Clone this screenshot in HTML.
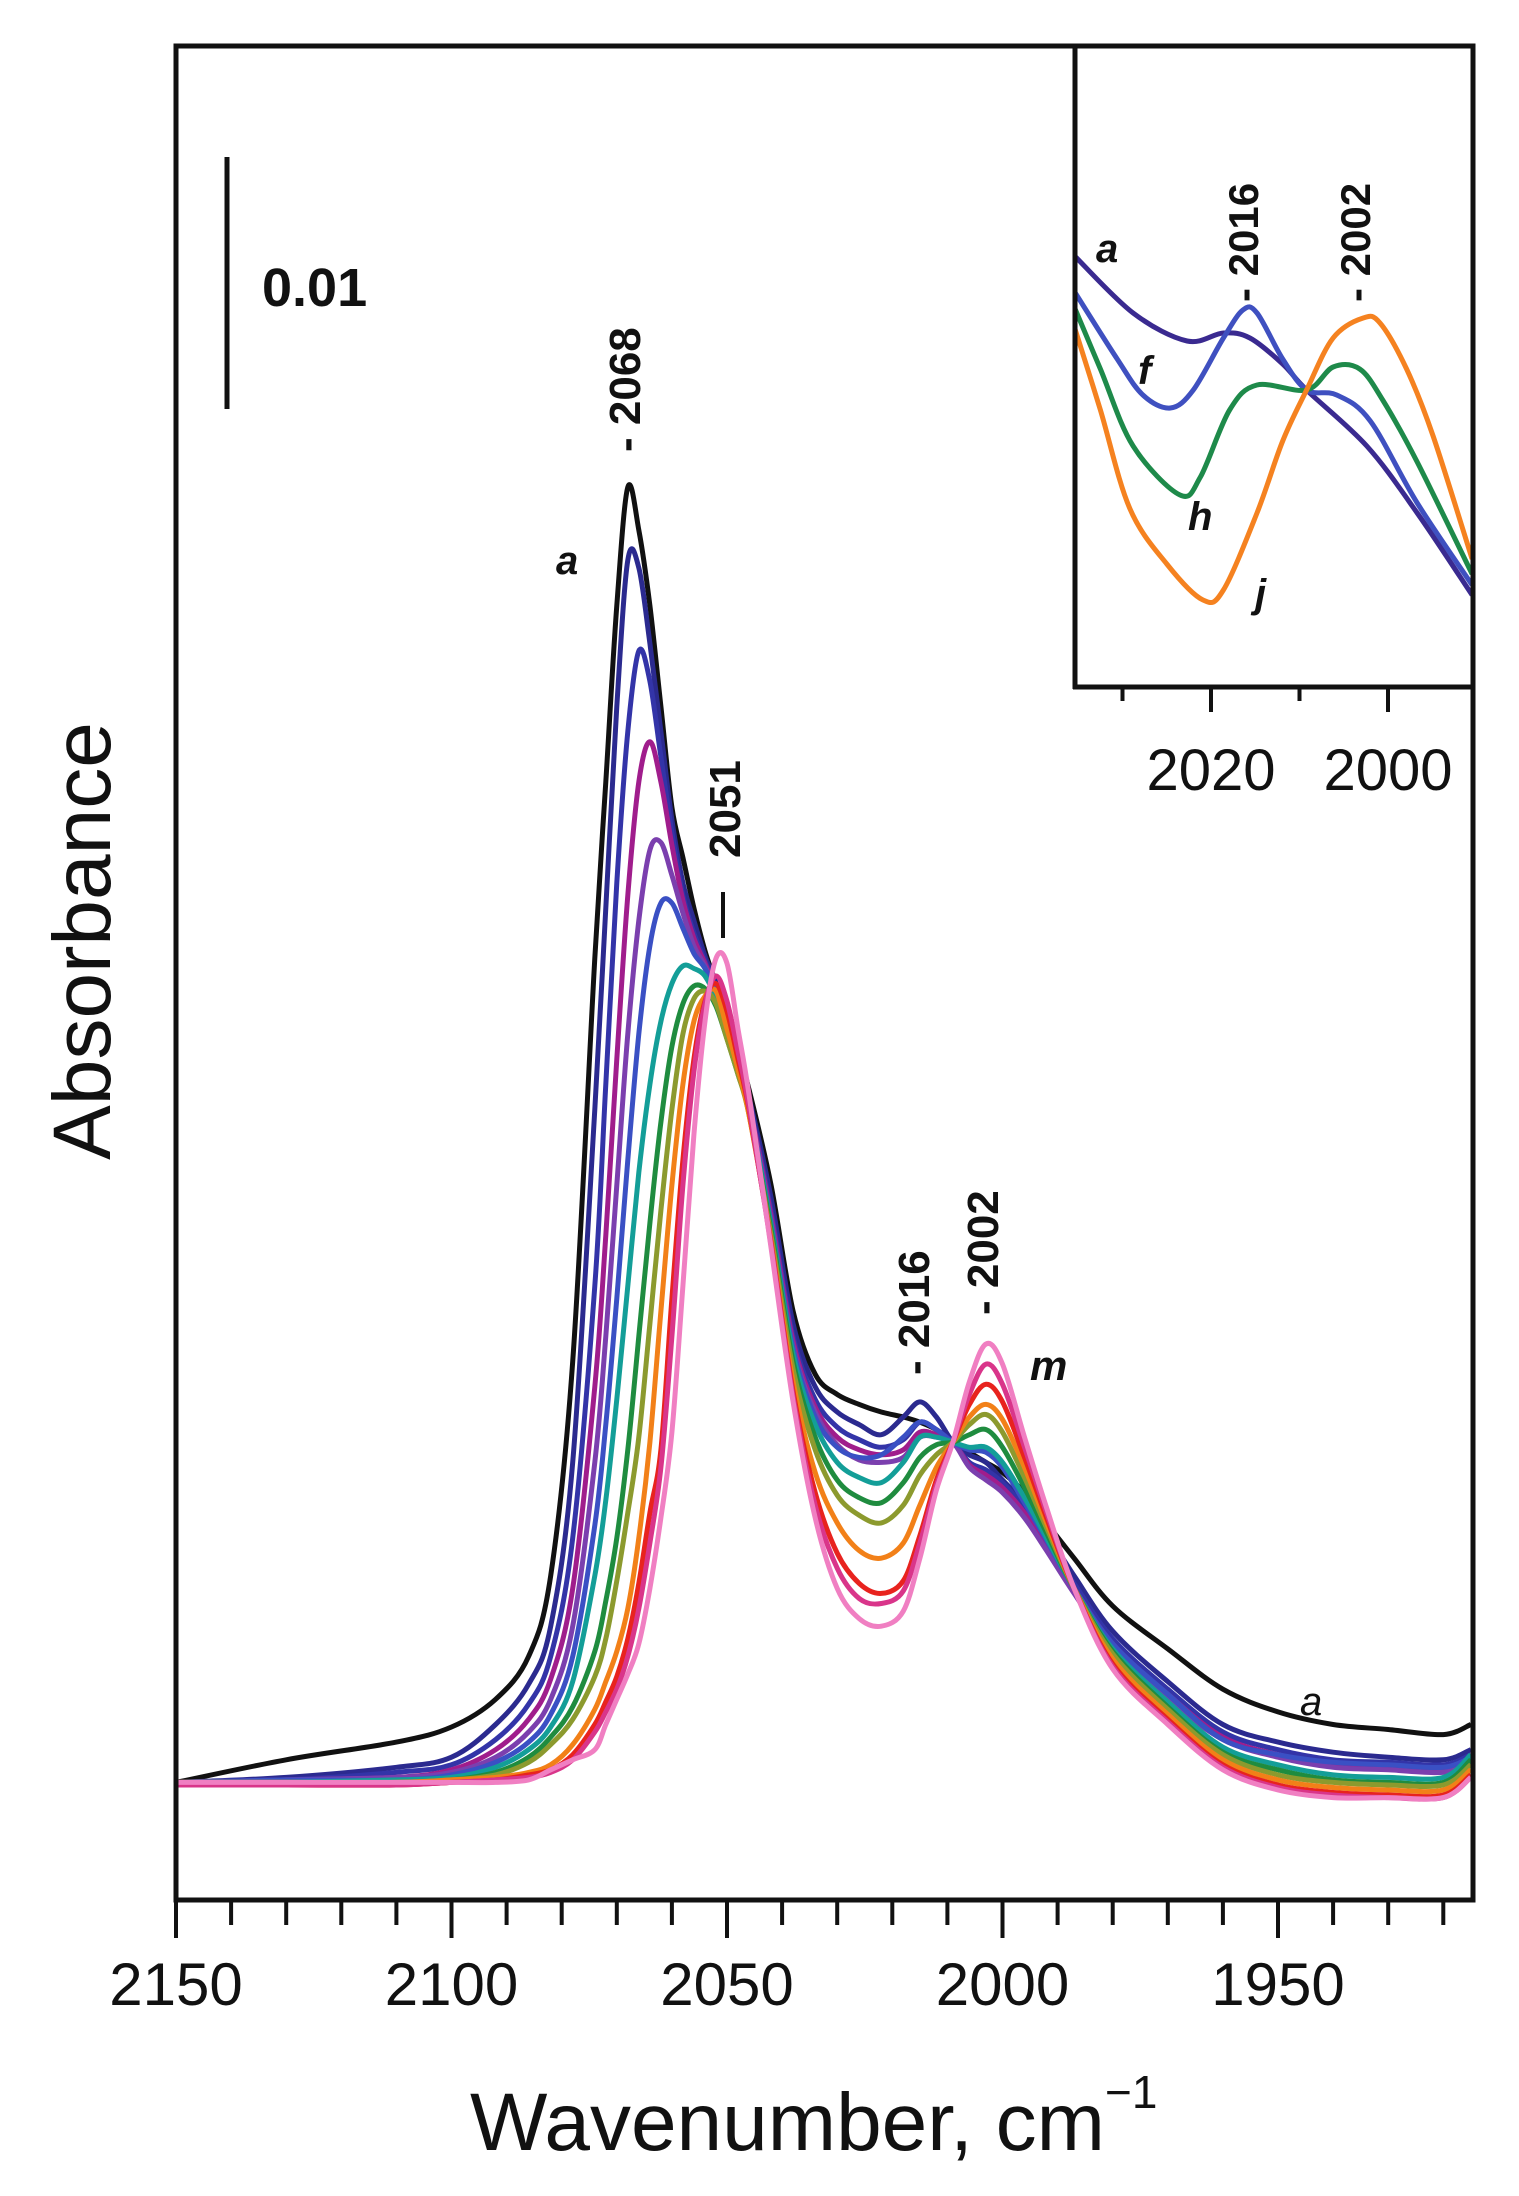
<!DOCTYPE html>
<html><head><meta charset="utf-8"><style>
html,body{margin:0;padding:0;background:#fff;}
svg{display:block;}
text{font-family:"Liberation Sans",Arial,sans-serif;fill:#111;}
</style></head><body>
<svg id="chart" width="1519" height="2196" viewBox="0 0 1519 2196" xmlns="http://www.w3.org/2000/svg">
<g id="main-curves"></g>
<g id="inset-group">
<rect x="1075" y="46" width="398" height="641" fill="#fff"/>
<g id="inset-curves"></g>
</g>
<g id="axes"></g>
<line x1="227" y1="157" x2="227" y2="409" stroke="#111" stroke-width="5"/>
<text x="262" y="306" font-size="54" font-weight="bold">0.01</text>
<text transform="translate(110,941) rotate(-90)" text-anchor="middle" font-size="82">Absorbance</text>
<text x="470" y="2150" font-size="82">Wavenumber, cm<tspan dy="-42" font-size="46">−1</tspan></text>
<text transform="translate(640,452) rotate(-90)" font-size="44" font-weight="bold">- 2068</text>
<line x1="723" y1="892" x2="723" y2="938" stroke="#111" stroke-width="4"/>
<text transform="translate(740,858) rotate(-90)" font-size="44" font-weight="bold">2051</text>
<text transform="translate(929,1375) rotate(-90)" font-size="44" font-weight="bold">- 2016</text>
<text transform="translate(998,1315) rotate(-90)" font-size="44" font-weight="bold">- 2002</text>
<text x="556" y="574" font-size="40" font-weight="bold" font-style="italic">a</text>
<text x="1030" y="1380" font-size="42" font-weight="bold" font-style="italic">m</text>
<text x="1300" y="1715" font-size="40" font-style="italic">a</text>
<text x="1096" y="262" font-size="40" font-weight="bold" font-style="italic">a</text>
<text x="1138" y="384" font-size="40" font-weight="bold" font-style="italic">f</text>
<text x="1188" y="530" font-size="40" font-weight="bold" font-style="italic">h</text>
<text x="1255" y="607" font-size="40" font-weight="bold" font-style="italic">j</text>
<text transform="translate(1258,302) rotate(-90)" font-size="42" font-weight="bold">- 2016</text>
<text transform="translate(1370,302) rotate(-90)" font-size="42" font-weight="bold">- 2002</text>
</svg>
<script>
// ---- main chart data ----
const wn = [2150,2130,2110,2100,2092,2086,2082,2078,2074,2072,2070,2068,2066,2064,2062,2060,2058,2056,2054,2052,2050,2048,2046,2042,2038,2034,2030,2026,2022,2018,2015,2012,2009,2006,2003,2000,1996,1992,1987,1980,1970,1960,1950,1940,1930,1920,1915];
const seriesNames = ['a','b','c','d','e','f','g','h','i','j','k','l','m'];
const seriesColors = ['#111111','#2b2a8f','#3334a8','#a01d8c','#7b3fae','#3a50c4','#139e98','#1f8c3f','#8c9a2e','#f28018','#e8231e','#d9358a','#f07fc2'];
const absA = [0.3,1.2,1.9,2.5,3.6,5.3,8.5,17,33,40,47,51.7,50,47,43,39,37,35,33.3,32,30.5,29.3,27.8,24,19,16.5,15.7,15.3,15.0,14.8,14.6,14.3,13.8,13.4,13.0,12.6,11.8,10.6,9.2,7.3,5.6,4.0,3.1,2.6,2.4,2.2,2.6];
const absB = [0.3,0.5,0.9,1.3,2.6,4.2,6.5,13,27,35,43,48.8,48.5,45.5,42,38.5,36,34.5,33.1,32,30.3,29,27.5,23.5,18.5,16,15,14.5,14.1,14.8,15.4,14.8,13.8,13.3,13.0,12.3,11.4,10.2,8.5,6.3,4.3,2.6,1.9,1.5,1.3,1.2,1.6];
const absC = [0.3,0.4,0.7,1.0,2.0,3.4,5.3,10,20,28,36,42,45.2,44,41,38,35.5,34,32.9,31.8,30.2,28.8,27.3,23,18,15.5,14.4,13.9,13.6,13.9,14.6,14.3,13.8,13.0,12.7,12.2,11.2,9.9,8.2,6.0,4.0,2.3,1.6,1.2,1.1,1.0,1.4];
const absD = [0.3,0.4,0.5,0.8,1.6,2.8,4.4,8,16,22,29,35.5,40,41.6,40,37.5,35.3,33.8,32.8,31.7,30.1,28.7,27.2,22.8,17.8,15.2,14.0,13.5,13.3,13.5,14.2,14.1,13.8,12.9,12.5,12.0,11.0,9.7,8.0,5.8,3.8,2.1,1.4,1.0,0.9,0.8,1.2];
const absE = [0.3,0.4,0.5,0.7,1.3,2.3,3.6,6.5,13,18,24,30,34.5,37.3,37.6,36.3,34.8,33.5,32.7,31.6,30,28.6,27.1,22.6,17.6,15.0,13.7,13.1,13.0,13.2,14.0,14.0,13.8,12.8,12.3,11.8,10.8,9.5,7.8,5.6,3.6,2.0,1.3,0.9,0.8,0.7,1.1];
const absF = [0.3,0.4,0.4,0.6,1.1,1.9,3.0,5.3,10.5,14.5,19.5,25,30,33.5,35.2,35.2,34.2,33.2,32.6,31.6,30,28.6,27.1,22.5,17.5,14.8,13.6,13.2,13.3,14.0,14.6,14.3,13.8,13.5,13.4,12.8,11.4,9.9,8.0,5.8,3.8,2.0,1.4,1.1,1.0,0.9,1.3];
const absG = [0.2,0.3,0.4,0.5,0.9,1.6,2.5,4.3,8.5,11.5,15.5,20,24.5,28,30.5,32,32.7,32.6,32.3,31.4,29.9,28.5,27,22.4,17.3,14.5,13.0,12.4,12.2,13.0,14.0,14.0,13.8,13.6,13.6,13.0,11.6,10.0,8.0,5.6,3.5,1.7,1.0,0.6,0.5,0.5,1.4];
const absH = [0.3,0.3,0.3,0.4,0.7,1.3,2.1,3.3,5.5,7.5,10,13.5,18,22.5,26.5,29.5,31.2,31.9,31.8,31.1,29.8,28.4,26.9,22.2,17.0,14.0,12.3,11.6,11.4,12.2,13.2,13.7,13.8,14.1,14.3,13.6,12.0,10.2,8.0,5.5,3.3,1.5,0.8,0.4,0.3,0.3,1.2];
const absI = [0.3,0.3,0.3,0.4,0.6,1.1,1.8,2.8,4.5,6,8.3,11,14,18.5,23,27,30,31.4,31.7,31.2,29.8,28.4,26.8,22,16.7,13.5,11.7,10.9,10.6,11.3,12.5,13.3,13.8,14.5,14.9,14.2,12.4,10.4,8.0,5.4,3.2,1.4,0.6,0.3,0.2,0.2,1.0];
const absJ = [0.3,0.3,0.3,0.4,0.5,0.7,1.0,1.8,3.2,4.3,5.5,7.2,10,13.8,19,24,28,30.5,31.5,31.7,30.2,28.6,26.8,21.8,16.2,12.6,10.6,9.5,9.2,9.8,11.3,12.8,13.8,14.8,15.3,14.7,12.8,10.6,8.0,5.2,3.0,1.2,0.4,0.1,0.0,0.0,0.8];
const absK = [0.2,0.2,0.2,0.3,0.4,0.6,0.8,1.4,2.6,3.5,4.5,6.0,8.2,11,13.5,19.5,25,29,31.3,32,30.9,29,27,21.7,15.8,11.8,9.4,8.2,7.8,8.3,10.1,12.3,13.8,15.3,16.1,15.4,13.2,10.8,8.0,5.0,2.8,1.0,0.2,-0.1,-0.2,-0.2,0.6];
const absL = [0.2,0.2,0.2,0.3,0.4,0.5,0.7,1.2,2.3,3.1,4.0,5.3,7.2,9.8,12.8,18,24,28.5,31.2,32.3,31.3,29.3,27.1,21.6,15.6,11.3,8.8,7.6,7.4,7.9,9.8,12.1,13.8,15.7,16.9,16.1,13.6,11.0,8.0,4.9,2.7,0.9,0.1,-0.2,-0.3,-0.3,0.5];
const absM = [0.3,0.3,0.3,0.3,0.3,0.4,0.8,1.2,1.6,2.6,3.6,4.6,5.8,8.0,10.8,14.2,20,26,30.5,33,32.8,30.2,27.6,21.5,15.4,10.8,8.0,6.8,6.5,7.1,9.2,11.9,13.8,16.2,17.7,16.9,14.0,11.2,8.0,4.8,2.6,0.8,0.0,-0.3,-0.3,-0.3,0.5];
const seriesValues = [absA,absB,absC,absD,absE,absF,absG,absH,absI,absJ,absK,absL,absM];
const xTickMajor = [2150,2100,2050,2000,1950];
const xTickLabels = ['2150','2100','2050','2000','1950'];

// ---- inset data ----
const insetNames = ['a','f','h','j'];
const insetColors = ['#3a2a90','#3f50c0','#1e8a4a','#f58220'];
const insetWnA = [2035.4,2028.8,2022.7,2018.6,2015.6,2011.9,2009.2,2002.4,1996.7,1990.5];
const insetValA = [44.4,38.7,35.9,36.7,36.2,33.6,31.0,25.4,18.7,10.5];
const insetWnF = [2035.4,2030.6,2027.7,2024.6,2022.0,2018.6,2016.4,2014.8,2011.9,2009.2,2005.8,2002.0,1996.7,1990.5];
const insetValF = [40.8,34.1,30.5,29.2,31.0,36.2,39.0,38.7,34.1,31.0,30.5,27.9,19.7,11.5];
const insetWnH = [2035.4,2032.5,2028.8,2023.5,2021.2,2017.9,2014.8,2009.2,2006.2,2003.2,2000.6,1996.7,1990.5];
const insetValH = [39.2,33.1,25.4,20.5,22.3,29.0,31.5,31.0,33.3,33.1,30.0,23.8,12.6];
const insetWnJ = [2035.4,2032.5,2029.2,2025.0,2020.9,2018.6,2014.8,2011.9,2009.2,2006.2,2002.8,2000.9,1997.9,1994.9,1990.5];
const insetValJ = [37.2,29.0,19.2,13.6,10.0,11.0,18.7,25.9,31.0,36.2,38.2,37.7,33.1,26.4,14.1];
const insetWns = [insetWnA,insetWnF,insetWnH,insetWnJ];
const insetVals = [insetValA,insetValF,insetValH,insetValJ];
const insetTickMajor = [2020,2000];
const insetTickMinor = [2030,2010];

const NS = 'http://www.w3.org/2000/svg';
function xMain(w){ return 176 + (2150 - w) * 5.51; }
function yMain(a){ return 1790 - a * 25.2; }
function xIns(w){ return 1211 - (w - 2020) * 8.85; }
function yIns(v){ return 700 - v * 10; }

function spline(pts){
  let d = 'M' + pts[0][0].toFixed(1) + ',' + pts[0][1].toFixed(1);
  for (let i = 0; i < pts.length - 1; i++){
    const p0 = pts[Math.max(0,i-1)], p1 = pts[i], p2 = pts[i+1], p3 = pts[Math.min(pts.length-1,i+2)];
    const c1x = p1[0] + (p2[0]-p0[0])/6, c1y = p1[1] + (p2[1]-p0[1])/6;
    const c2x = p2[0] - (p3[0]-p1[0])/6, c2y = p2[1] - (p3[1]-p1[1])/6;
    d += ' C' + c1x.toFixed(1)+','+c1y.toFixed(1)+' '+c2x.toFixed(1)+','+c2y.toFixed(1)+' '+p2[0].toFixed(1)+','+p2[1].toFixed(1);
  }
  return d;
}

const mainG = document.getElementById('main-curves');
seriesValues.forEach((vals, k) => {
  const pts = wn.map((w, i) => [xMain(w), yMain(vals[i])]);
  const p = document.createElementNS(NS, 'path');
  p.setAttribute('d', spline(pts));
  p.setAttribute('fill', 'none');
  p.setAttribute('stroke', seriesColors[k]);
  p.setAttribute('stroke-width', '5');
  p.setAttribute('stroke-linejoin', 'round');
  
  
  mainG.appendChild(p);
});

const insG = document.getElementById('inset-curves');
const clip = document.createElementNS(NS, 'clipPath');
clip.setAttribute('id', 'insclip');
const cr = document.createElementNS(NS, 'rect');
cr.setAttribute('x', '1075'); cr.setAttribute('y', '46'); cr.setAttribute('width', '398'); cr.setAttribute('height', '641');
clip.appendChild(cr);
document.getElementById('chart').appendChild(clip);
insG.setAttribute('clip-path', 'url(#insclip)');
insetVals.forEach((vals, k) => {
  const pts = insetWns[k].map((w, i) => [xIns(w), yIns(vals[i])]);
  const p = document.createElementNS(NS, 'path');
  p.setAttribute('d', spline(pts));
  p.setAttribute('fill', 'none');
  p.setAttribute('stroke', insetColors[k]);
  p.setAttribute('stroke-width', '5');
  
  
  insG.appendChild(p);
});

const ax = document.getElementById('axes');
function line(x1,y1,x2,y2,w,name){
  const l = document.createElementNS(NS, 'line');
  l.setAttribute('x1',x1); l.setAttribute('y1',y1); l.setAttribute('x2',x2); l.setAttribute('y2',y2);
  l.setAttribute('stroke','#111'); l.setAttribute('stroke-width',w);
  
  
  ax.appendChild(l);
}
function txt(x,y,s,size,name){
  const t = document.createElementNS(NS, 'text');
  t.setAttribute('x',x); t.setAttribute('y',y); t.setAttribute('font-size',size);
  t.setAttribute('text-anchor','middle');
  t.textContent = s;
  
  
  ax.appendChild(t);
}
// main frame
const fr = document.createElementNS(NS, 'rect');
fr.setAttribute('x','176'); fr.setAttribute('y','46'); fr.setAttribute('width','1297'); fr.setAttribute('height','1854');
fr.setAttribute('fill','none'); fr.setAttribute('stroke','#111'); fr.setAttribute('stroke-width','5');


ax.appendChild(fr);
// x ticks
for (let w = 2150; w >= 1920; w -= 10){
  const major = xTickMajor.indexOf(w) >= 0;
  line(xMain(w), 1900, xMain(w), major ? 1938 : 1925, 4, major ? 'x-major-tick' : 'x-minor-tick');
}
xTickMajor.forEach((w, i) => txt(xMain(w), 2005, xTickLabels[i], 60, 'x-tick-label'));
// inset frame
line(1075, 44, 1075, 689, 5, 'inset-left-border');
line(1073, 687, 1473, 687, 5, 'inset-bottom-border');
insetTickMajor.forEach(w => { line(xIns(w), 687, xIns(w), 712, 4, 'inset-major-tick'); txt(xIns(w), 790, String(w), 58, 'inset-tick-label'); });
insetTickMinor.forEach(w => line(xIns(w), 687, xIns(w), 701, 4, 'inset-minor-tick'));
</script>
</body></html>
